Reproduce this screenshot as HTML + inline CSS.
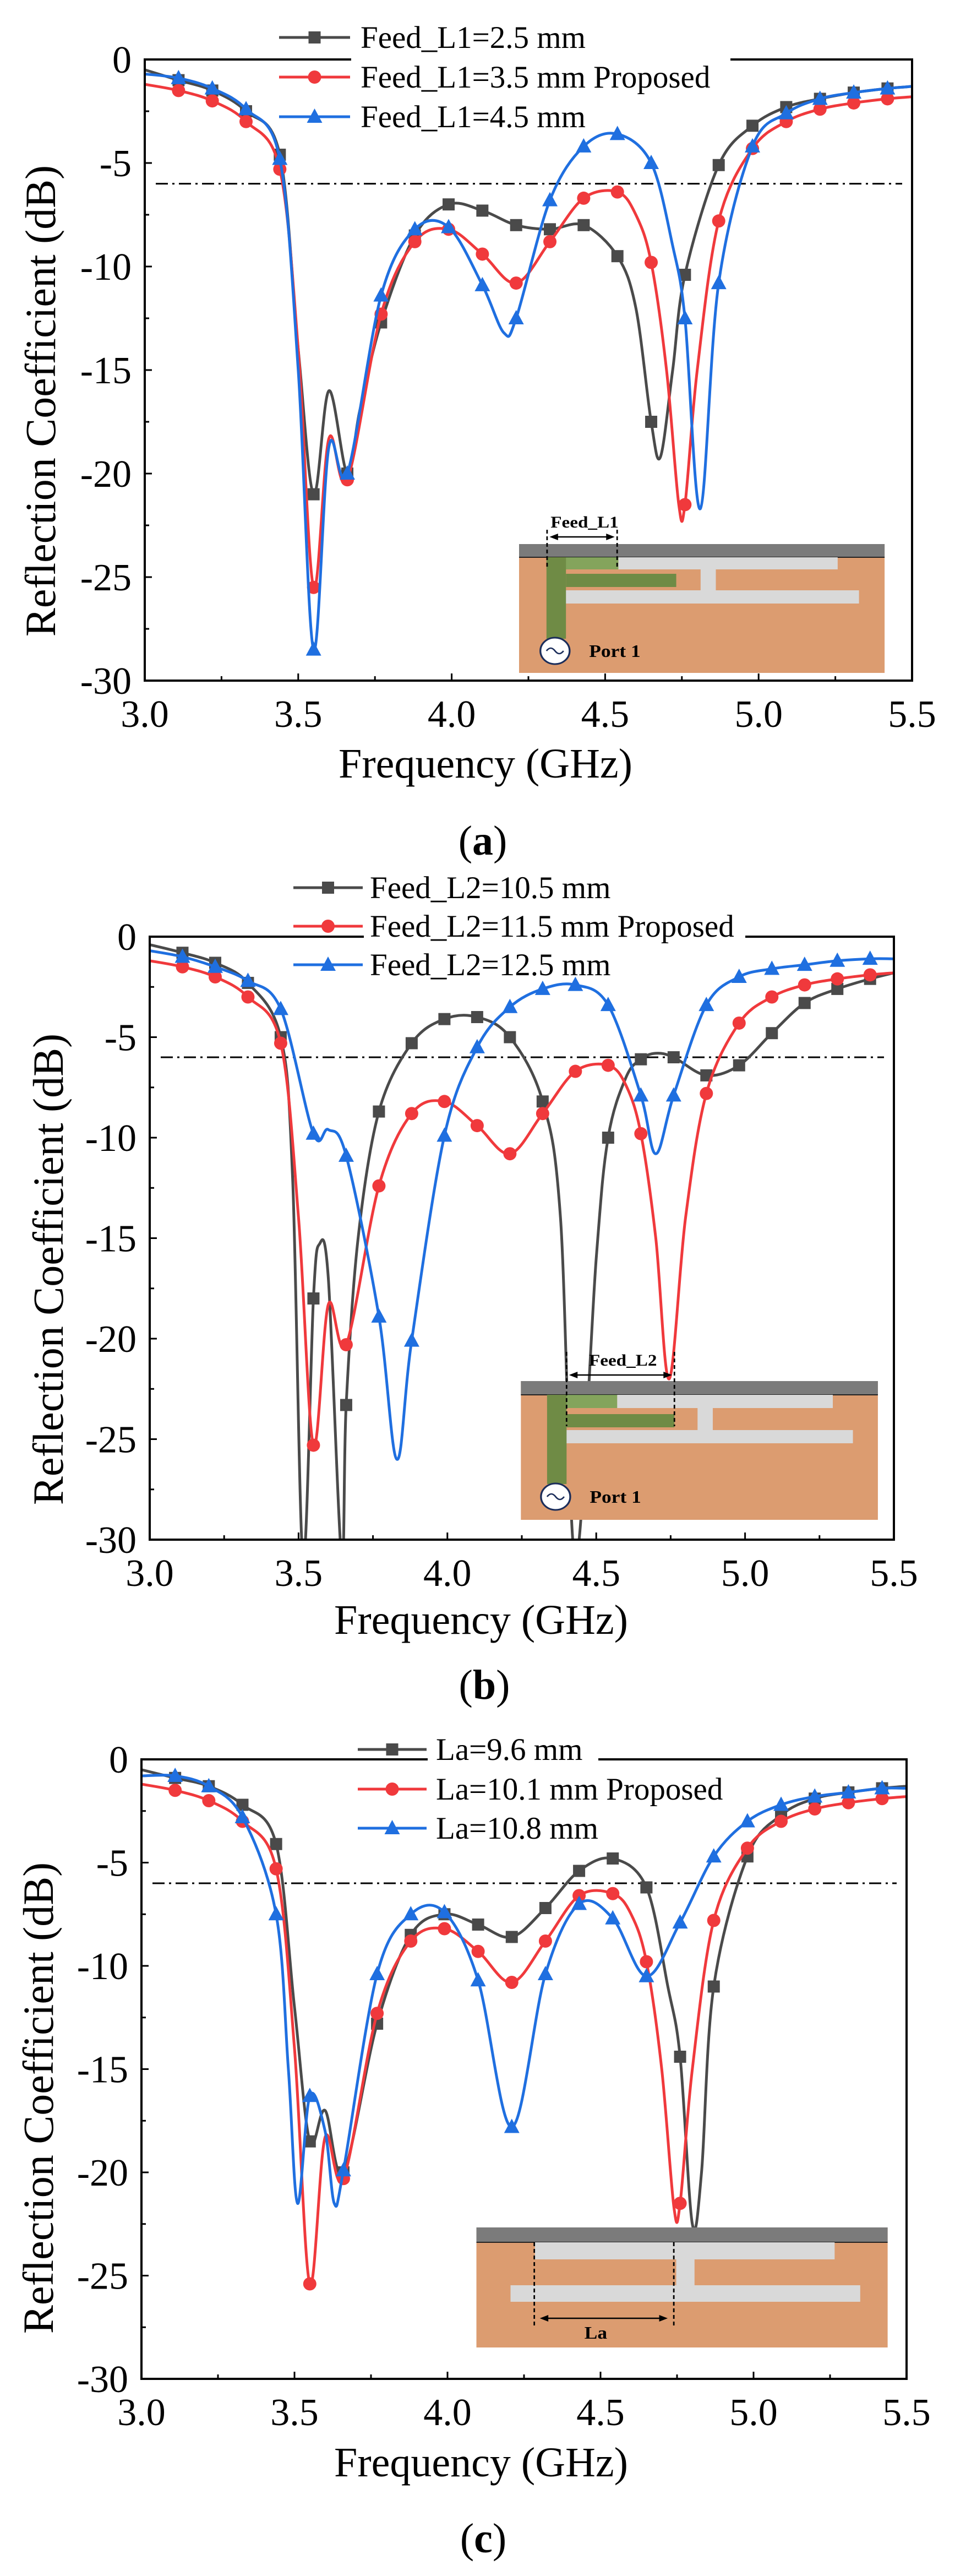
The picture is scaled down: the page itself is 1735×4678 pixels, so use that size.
<!DOCTYPE html>
<html><head><meta charset="utf-8"><style>
html,body{margin:0;padding:0;background:#fff}
svg{display:block}
text{font-family:"Liberation Serif",serif;fill:#000}
</style></head><body>
<svg id="fig" width="1735" height="4678" viewBox="0 0 1735 4678" xmlns="http://www.w3.org/2000/svg"></svg>
<script>
// ---------- data ----------
const xTicks=[3.0,3.5,4.0,4.5,5.0,5.5];
const yTicks=[0,-5,-10,-15,-20,-25,-30];
const markerFreqs=[3.11,3.22,3.33,3.44,3.55,3.66,3.77,3.88,3.99,4.1,4.21,4.32,4.43,4.54,4.65,4.76,4.87,4.98,5.09,5.2,5.31,5.42];
// chart a
const a1F=[3.0,3.11,3.22,3.33,3.44,3.5,3.55,3.6,3.66,3.7,3.77,3.88,3.99,4.1,4.21,4.32,4.43,4.54,4.6,4.65,4.68,4.72,4.76,4.87,4.98,5.09,5.2,5.31,5.42,5.5];
const a1V=[-0.5,-1.0,-1.5,-2.5,-4.6,-14,-21,-16,-20,-17,-12.7,-8.5,-7,-7.3,-8,-8.2,-8,-9.5,-12,-17.5,-19.2,-15,-10.4,-5.1,-3.2,-2.3,-1.9,-1.6,-1.4,-1.3];
const a2F=[3.0,3.11,3.22,3.33,3.44,3.5,3.55,3.6,3.66,3.77,3.88,3.99,4.1,4.21,4.32,4.43,4.54,4.6,4.65,4.7,4.74,4.76,4.8,4.87,4.98,5.09,5.2,5.31,5.42,5.5];
const a2V=[-1.2,-1.5,-2.0,-3.0,-5.3,-14,-25.5,-18.3,-20.3,-12.3,-8.8,-8.2,-9.4,-10.8,-8.8,-6.7,-6.4,-7.5,-9.8,-15,-21.5,-21.5,-15,-7.8,-4.3,-3.0,-2.4,-2.1,-1.9,-1.8];
const a3F=[3.0,3.11,3.22,3.33,3.44,3.5,3.55,3.6,3.66,3.77,3.88,3.99,4.1,4.17,4.21,4.32,4.43,4.54,4.65,4.72,4.76,4.81,4.87,4.98,5.09,5.2,5.31,5.42,5.5];
const a3V=[-0.7,-0.9,-1.4,-2.4,-4.8,-15,-28.5,-18.7,-20,-11.4,-8.2,-8.1,-10.9,-13.2,-12.5,-6.8,-4.2,-3.6,-5.0,-9,-12.5,-21.7,-10.8,-4.2,-2.6,-1.9,-1.6,-1.4,-1.3];
// chart b
const b1F=[3.0,3.11,3.22,3.33,3.44,3.48,3.515,3.55,3.57,3.6,3.645,3.66,3.7,3.77,3.88,3.99,4.1,4.21,4.32,4.38,4.43,4.5,4.54,4.6,4.65,4.7,4.76,4.87,4.98,5.09,5.2,5.31,5.42,5.5];
const b1V=[-0.4,-0.8,-1.3,-2.3,-5,-12,-31,-18,-15.3,-17,-31,-23.3,-15,-8.7,-5.3,-4.1,-4.0,-5.0,-8.2,-14,-31,-16,-10,-7,-6.1,-5.8,-6.0,-6.9,-6.4,-4.8,-3.3,-2.6,-2.1,-1.8];
const b2F=[3.0,3.11,3.22,3.33,3.44,3.5,3.55,3.6,3.66,3.77,3.88,3.99,4.1,4.21,4.32,4.43,4.54,4.6,4.65,4.7,4.745,4.8,4.87,4.98,5.09,5.2,5.31,5.42,5.5];
const b2V=[-1.2,-1.5,-2.0,-3.0,-5.3,-14,-25.3,-18.3,-20.3,-12.4,-8.8,-8.2,-9.4,-10.8,-8.8,-6.7,-6.4,-7.4,-9.8,-15,-22,-14,-7.8,-4.3,-3.0,-2.4,-2.1,-1.9,-1.8];
const b3F=[3.0,3.11,3.22,3.33,3.44,3.55,3.6,3.66,3.77,3.83,3.88,3.99,4.1,4.21,4.32,4.43,4.54,4.65,4.7,4.76,4.87,4.98,5.09,5.2,5.31,5.42,5.5];
const b3V=[-0.7,-1.0,-1.5,-2.2,-3.6,-9.8,-9.6,-10.9,-18.9,-26,-20.1,-9.9,-5.5,-3.5,-2.6,-2.4,-3.4,-7.9,-10.8,-7.9,-3.4,-2.0,-1.6,-1.4,-1.2,-1.1,-1.1];
// chart c
const c1F=[3.0,3.11,3.22,3.33,3.44,3.5,3.55,3.6,3.66,3.77,3.88,3.99,4.1,4.21,4.32,4.43,4.54,4.65,4.72,4.76,4.8,4.83,4.87,4.98,5.09,5.2,5.31,5.42,5.5];
const c1V=[-0.5,-0.9,-1.3,-2.2,-4.1,-12,-18.5,-17,-20,-12.8,-8.5,-7.5,-8.0,-8.6,-7.2,-5.4,-4.8,-6.2,-11,-14.4,-22.5,-20,-11.0,-4.7,-2.7,-1.9,-1.6,-1.4,-1.3];
const c2F=[3.0,3.11,3.22,3.33,3.44,3.5,3.55,3.6,3.66,3.77,3.88,3.99,4.1,4.21,4.32,4.43,4.54,4.6,4.65,4.7,4.74,4.76,4.8,4.87,4.98,5.09,5.2,5.31,5.42,5.5];
const c2V=[-1.2,-1.5,-2.0,-3.0,-5.3,-14,-25.4,-18.3,-20.3,-12.3,-8.8,-8.2,-9.3,-10.8,-8.8,-6.6,-6.5,-7.5,-9.8,-15,-21.7,-21.5,-15,-7.8,-4.3,-3.0,-2.4,-2.1,-1.9,-1.8];
const c3F=[3.0,3.11,3.22,3.33,3.44,3.48,3.51,3.55,3.6,3.63,3.66,3.77,3.88,3.99,4.1,4.21,4.32,4.43,4.54,4.65,4.76,4.87,4.98,5.09,5.2,5.31,5.42,5.5];
const c3V=[-0.8,-0.8,-1.3,-2.8,-7.5,-15,-21.5,-16.3,-18,-21.5,-19.9,-10.4,-7.5,-7.4,-10.7,-17.8,-10.4,-7.0,-7.7,-10.5,-7.9,-4.7,-3.0,-2.2,-1.8,-1.6,-1.4,-1.4];
const legendA=["Feed_L1=2.5 mm","Feed_L1=3.5 mm Proposed","Feed_L1=4.5 mm"];
const legendB=["Feed_L2=10.5 mm","Feed_L2=11.5 mm Proposed","Feed_L2=12.5 mm"];
const legendC=["La=9.6 mm","La=10.1 mm Proposed","La=10.8 mm"];

// ---------- drawing ----------
const NS="http://www.w3.org/2000/svg";
const svg=document.getElementById('fig');
const COLORS=["#4a4a4a","#f0393c","#1f6fe0"];
const SHAPES=["square","circle","triangle"];
function mk(tag,attrs,parent){const e=document.createElementNS(NS,tag);for(const k in attrs)e.setAttribute(k,attrs[k]);(parent||svg).appendChild(e);return e;}
function spline(pts){let d="M"+pts[0][0].toFixed(1)+","+pts[0][1].toFixed(1);
 for(let i=0;i<pts.length-1;i++){const p0=pts[Math.max(0,i-1)],p1=pts[i],p2=pts[i+1],p3=pts[Math.min(pts.length-1,i+2)];
  const c1=[p1[0]+(p2[0]-p0[0])/6,p1[1]+(p2[1]-p0[1])/6],c2=[p2[0]-(p3[0]-p1[0])/6,p2[1]-(p3[1]-p1[1])/6];
  d+="C"+c1[0].toFixed(1)+","+c1[1].toFixed(1)+" "+c2[0].toFixed(1)+","+c2[1].toFixed(1)+" "+p2[0].toFixed(1)+","+p2[1].toFixed(1);}
 return d;}
function marker(g,shape,x,y,col){let e;
 if(shape==="square")e=mk('rect',{x:x-11,y:y-11,width:22,height:22,fill:col},g);
 else if(shape==="circle")e=mk('circle',{cx:x,cy:y,r:12,fill:col},g);
 else e=mk('polygon',{points:`${x},${y-15} ${x+14},${y+11} ${x-14},${y+11}`,fill:col},g);
 
 
 return e;}

function chart(c){
 const g=mk('g',{});
 
 
 const X=f=>c.L+(f-3)/2.5*(c.R-c.L), Y=v=>c.T+(-v)/30*(c.B-c.T);
 const cp=mk('clipPath',{id:'clip'+c.id},g);mk('rect',{x:c.L,y:c.T,width:c.R-c.L,height:c.B-c.T},cp);
 const ref=mk('line',{x1:c.L+20,x2:c.R-18,y1:Y(-6),y2:Y(-6),stroke:"#000","stroke-width":3,"stroke-dasharray":"22 8 4 8"},g);
 
 
 c.series.forEach((s,i)=>{
  const sg=mk('g',{'clip-path':`url(#clip${c.id})`},g);
  
  
  const pts=s[0].map((f,k)=>[X(f),Y(s[1][k])]);
  const p=mk('path',{d:spline(pts),fill:"none",stroke:COLORS[i],"stroke-width":5,"stroke-linejoin":"round"},sg);
  
  
  s[0].forEach((f,k)=>{if(markerFreqs.some(m=>Math.abs(m-f)<0.004))marker(sg,SHAPES[i],X(f),Y(s[1][k]),COLORS[i]);});
 });
 c.inset(g);
 // frame
 const fr=mk('rect',{x:c.L,y:c.T,width:c.R-c.L,height:c.B-c.T,fill:"none",stroke:"#000","stroke-width":4},g);
 
 
 mk('rect',{x:c.leg.x1+2,y:c.T-4,width:c.leg.gapEnd-c.leg.x1,height:8,fill:"#fff"},g);
 // legend (after frame)
 const lg=mk('g',{},g);
 
 
 c.labels.forEach((t,i)=>{const y=c.leg.ys[i];
  const e=mk('g',{},lg);
  
  
  mk('line',{x1:c.leg.x0,x2:c.leg.x1,y1:y,y2:y,stroke:COLORS[i],"stroke-width":5},e);
  marker(e,SHAPES[i],(c.leg.x0+c.leg.x1)/2,y,COLORS[i]);
  const tx=mk('text',{x:c.leg.tx,y:y+19,"font-size":57},e);tx.textContent=t;});
 xTicks.forEach(f=>{const x=X(f);
  mk('line',{x1:x,x2:x,y1:c.B,y2:c.B-13,stroke:"#000","stroke-width":3},g);
  if(f<5.5)mk('line',{x1:X(f+0.25),x2:X(f+0.25),y1:c.B,y2:c.B-8,stroke:"#000","stroke-width":3},g);
  const t=mk('text',{x:x,y:c.B+84,"text-anchor":"middle","font-size":70},g);t.textContent=f.toFixed(1);
  });
 yTicks.forEach(v=>{const y=Y(v);
  mk('line',{x1:c.L,x2:c.L+13,y1:y,y2:y,stroke:"#000","stroke-width":3},g);
  if(v>-30)mk('line',{x1:c.L,x2:c.L+8,y1:Y(v-2.5),y2:Y(v-2.5),stroke:"#000","stroke-width":3},g);
  const t=mk('text',{x:c.L-24,y:y+24,"text-anchor":"end","font-size":70},g);t.textContent=String(v);
  });
 const xt=mk('text',{x:c.xt[0],y:c.xt[1],"text-anchor":"middle","font-size":76},g);xt.textContent="Frequency (GHz)";
 
 const yt=mk('text',{x:0,y:0,"text-anchor":"middle","font-size":78,transform:`translate(${c.yt[0]},${c.yt[1]}) rotate(-90)`},g);yt.textContent="Reflection Coefficient (dB)";
 
 const cap=mk('text',{x:c.cap[0],y:c.cap[1],"text-anchor":"middle","font-size":76},g);
 cap.innerHTML='(<tspan font-weight="bold">'+c.id+'</tspan>)';
 
}

const SX=1/0.9035;
function insetBase(g,oy,x0,x1,y0,yb,y1,name){
 const ig=mk('g',{transform:`translate(0,${oy}) scale(${SX},1)`},g);
 
 
 mk('rect',{x:x0,y:y0,width:x1-x0,height:y1-y0,fill:"#dc9c70"},ig);
 mk('rect',{x:x0,y:y0,width:x1-x0,height:yb-y0,fill:"#7b7b7b"},ig);
 mk('line',{x1:x0,x2:x1,y1:yb,y2:yb,stroke:"#222","stroke-width":2},ig);
 return ig;}
function feedInset(ig,o,label){
 mk('rect',{x:o.ua0,y:o.yb,width:o.ua1-o.ua0,height:o.uh,fill:"#d9d9d9"},ig);
 mk('rect',{x:o.st0,y:o.yb+o.uh,width:25,height:o.la-o.yb-o.uh,fill:"#d9d9d9"},ig);
 mk('rect',{x:o.la0,y:o.la,width:o.la1-o.la0,height:24,fill:"#d9d9d9"},ig);
 mk('rect',{x:o.fx,y:o.yb,width:o.ua0-o.fx,height:o.uh,fill:"#7aa55a",opacity:0.9},ig);
 mk('rect',{x:o.fx,y:o.yb,width:32,height:o.fb-o.yb,fill:"#6f8b45"},ig);
 mk('rect',{x:o.fx+32,y:o.hy,width:o.hx1-o.fx-32,height:24,fill:"#6f8b45"},ig);
 mk('circle',{cx:o.fx+14,cy:o.cy,r:24,fill:"#fff",stroke:"#1b2d5a","stroke-width":3},ig);
 mk('path',{d:`M${o.fx} ${o.cy} q7 -10 14 0 t14 0`,fill:"none",stroke:"#1b2d5a","stroke-width":2.5},ig);
 const pt=mk('text',{x:o.fx+70,y:o.cy+11,"font-size":32,"font-weight":"bold"},ig);pt.textContent="Port 1";
 mk('line',{x1:o.d0,x2:o.d0,y1:o.dy0,y2:o.dy1,stroke:"#000","stroke-width":2.5,"stroke-dasharray":"7 5"},ig);
 mk('line',{x1:o.d1,x2:o.d1,y1:o.dy0,y2:o.dy1,stroke:"#000","stroke-width":2.5,"stroke-dasharray":"7 5"},ig);
 mk('line',{x1:o.d0+10,x2:o.d1-10,y1:o.ay,y2:o.ay,stroke:"#000","stroke-width":2.5},ig);
 mk('path',{d:`M${o.d0+4} ${o.ay} l14 -6 v12z M${o.d1-4} ${o.ay} l-14 -6 v12z`,fill:"#000"},ig);
 const lt=mk('text',{x:(o.d0+o.d1)/2+4,y:o.ay-17,"text-anchor":"middle","font-size":30,"font-weight":"bold"},ig);lt.textContent=label;
}

chart({id:"a",L:263,R:1657,T:108,B:1236,series:[[a1F,a1V],[a2F,a2V],[a3F,a3V]],labels:legendA,
 leg:{x0:507,x1:636,tx:655,gapEnd:1325,ys:[68,140,212]},xt:[882,1412],yt:[100,728],cap:[877,1552],
 inset:g=>{const ig=insetBase(g,0,852,1452,988,1012,1222,'antenna-inset-a');
  feedInset(ig,{yb:1012,uh:22,ua0:1015,ua1:1375,st0:1150,la:1072,la0:915,la1:1410,fx:897,fb:1160,hy:1042,hx1:1110,cy:1182,d0:898,d1:1013,dy0:962,dy1:1034,ay:975},"Feed_L1");}});
chart({id:"b",L:272,R:1624,T:1701,B:2796,series:[[b1F,b1V],[b2F,b2V],[b3F,b3V]],labels:legendB,
 leg:{x0:533,x1:659,tx:672,gapEnd:1352,ys:[1612,1682,1752]},xt:[874,2967],yt:[114,2305],cap:[880,3085],
 inset:g=>{const ig=insetBase(g,1560,855,1441,948,973,1200,'antenna-inset-b');
  feedInset(ig,{yb:973,uh:24,ua0:1013,ua1:1367,st0:1145,la:1037,la0:915,la1:1400,fx:898,fb:1135,hy:1008,hx1:1107,cy:1158,d0:930,d1:1107,dy0:895,dy1:1030,ay:937},"Feed_L2");}});
chart({id:"c",L:257,R:1647,T:3195,B:4320,series:[[c1F,c1V],[c2F,c2V],[c3F,c3V]],labels:legendC,
 leg:{x0:650,x1:775,tx:792,gapEnd:1085,ys:[3177,3249,3320]},xt:[874,4497],yt:[96,3810],cap:[878,4635],
 inset:g=>{const ig=insetBase(g,3120,782,1457,925,952,1143,'antenna-inset-c');
  mk('rect',{x:878,y:952,width:492,height:31,fill:"#d9d9d9"},ig);
  mk('rect',{x:1110,y:983,width:30,height:47,fill:"#d9d9d9"},ig);
  mk('rect',{x:838,y:1030,width:574,height:30,fill:"#d9d9d9"},ig);
  mk('line',{x1:877,x2:877,y1:952,y2:1105,stroke:"#000","stroke-width":2.5,"stroke-dasharray":"7 5"},ig);
  mk('line',{x1:1106,x2:1106,y1:952,y2:1105,stroke:"#000","stroke-width":2.5,"stroke-dasharray":"7 5"},ig);
  mk('line',{x1:892,x2:1090,y1:1090,y2:1090,stroke:"#000","stroke-width":2.5},ig);
  mk('path',{d:"M886 1090 l14 -6 v12z M1096 1090 l-14 -6 v12z",fill:"#000"},ig);
  const t=mk('text',{x:978,y:1127,"text-anchor":"middle","font-size":32,"font-weight":"bold"},ig);t.textContent="La";}});
</script>
</body></html>
